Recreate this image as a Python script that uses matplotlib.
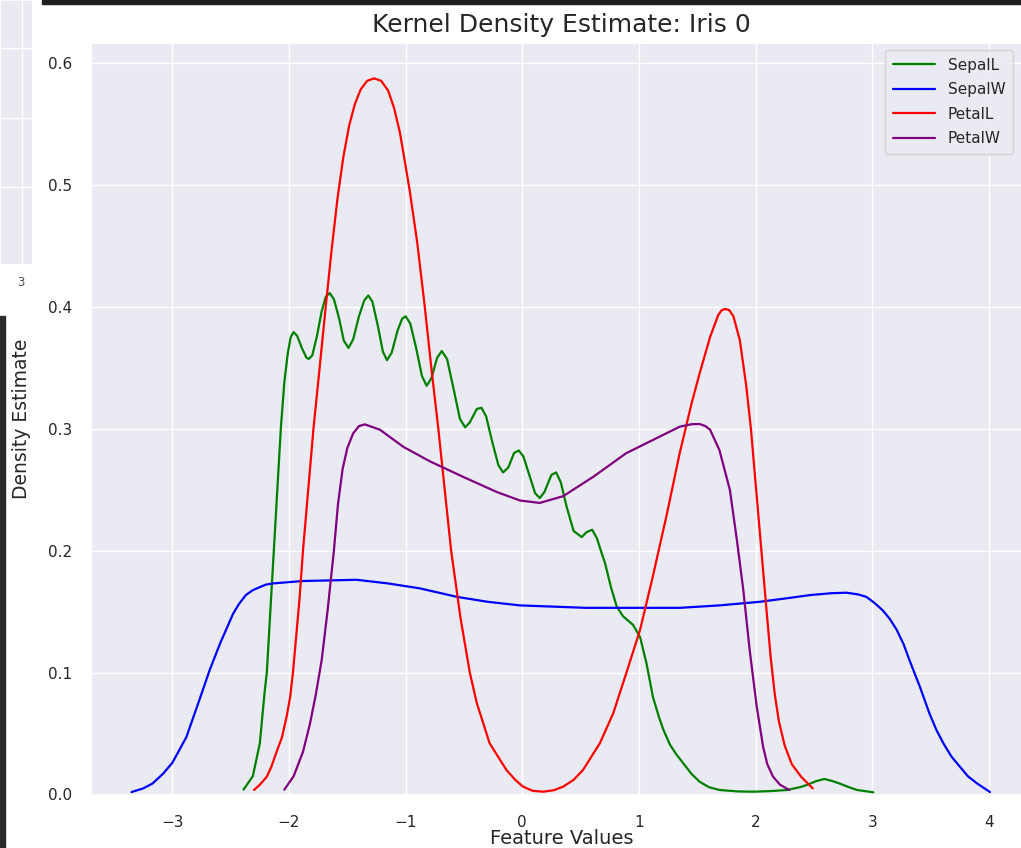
import matplotlib
matplotlib.use("Agg")
import matplotlib.pyplot as plt
import seaborn as sns
from matplotlib.patches import Rectangle

# values (standardised feature values vs density)
sepal_l_x = [-2.39, -2.31, -2.25, -2.21, -2.19, -2.16, -2.13, -2.10, -2.07, -2.04, -2.01, -1.985,
             -1.96, -1.93, -1.89, -1.85, -1.83, -1.80, -1.76, -1.72, -1.685, -1.65, -1.615, -1.57,
             -1.53, -1.49, -1.45, -1.40, -1.355, -1.32, -1.285, -1.24, -1.195, -1.16, -1.12, -1.07,
             -1.03, -1.00, -0.96, -0.91, -0.86, -0.82, -0.78, -0.73, -0.69, -0.645, -0.59, -0.535,
             -0.49, -0.45, -0.39, -0.35, -0.31, -0.26, -0.205, -0.165, -0.12, -0.07, -0.03, 0.01,
             0.06, 0.11, 0.15, 0.19, 0.25, 0.29, 0.33, 0.38, 0.44, 0.51, 0.55, 0.60, 0.64, 0.68,
             0.71, 0.76, 0.81, 0.865, 0.95, 1.01, 1.065, 1.12, 1.17, 1.21, 1.265, 1.32, 1.38, 1.45,
             1.52, 1.60, 1.69, 1.85, 1.98, 2.13, 2.27, 2.38, 2.44, 2.52, 2.59, 2.66, 2.72, 2.80,
             2.87, 3.01]
sepal_l_y = [0.004, 0.015, 0.042, 0.083, 0.100, 0.150, 0.200, 0.250, 0.300, 0.338, 0.362, 0.375,
             0.379, 0.376, 0.366, 0.358, 0.357, 0.360, 0.376, 0.396, 0.408, 0.411, 0.406, 0.390,
             0.372, 0.366, 0.373, 0.392, 0.405, 0.409, 0.404, 0.385, 0.363, 0.356, 0.362, 0.380,
             0.390, 0.392, 0.386, 0.366, 0.343, 0.335, 0.341, 0.358, 0.3635, 0.357, 0.333, 0.308,
             0.301, 0.305, 0.316, 0.317, 0.310, 0.290, 0.270, 0.264, 0.268, 0.280, 0.282, 0.277,
             0.262, 0.247, 0.243, 0.248, 0.262, 0.264, 0.256, 0.236, 0.216, 0.211, 0.215, 0.217,
             0.210, 0.198, 0.1895, 0.170, 0.154, 0.146, 0.139, 0.129, 0.1075, 0.080, 0.064, 0.053,
             0.041, 0.033, 0.0256, 0.017, 0.0105, 0.006, 0.0037, 0.0025, 0.0023, 0.0028, 0.0037,
             0.006, 0.0078, 0.011, 0.0127, 0.011, 0.009, 0.006, 0.0037, 0.0018]

sepal_w_x = [-3.35, -3.25, -3.17, -3.08, -3.00, -2.88, -2.77, -2.68, -2.59, -2.48, -2.43, -2.37,
             -2.31, -2.25, -2.20, -2.14, -1.88, -1.42, -1.15, -0.88, -0.56, -0.30, -0.02, 0.55,
             0.84, 1.35, 1.69, 2.04, 2.28, 2.47, 2.65, 2.78, 2.88, 2.95, 3.02, 3.09, 3.15, 3.21,
             3.27, 3.32, 3.41, 3.49, 3.55, 3.61, 3.68, 3.75, 3.82, 3.90, 4.01]
sepal_w_y = [0.002, 0.005, 0.009, 0.017, 0.026, 0.047, 0.077, 0.102, 0.124, 0.148, 0.156, 0.1635,
             0.1675, 0.170, 0.172, 0.173, 0.175, 0.176, 0.173, 0.169, 0.162, 0.158, 0.155, 0.153,
             0.153, 0.153, 0.155, 0.158, 0.161, 0.1635, 0.165, 0.1654, 0.164, 0.162, 0.157, 0.151,
             0.144, 0.135, 0.123, 0.110, 0.088, 0.0666, 0.053, 0.042, 0.031, 0.023, 0.015, 0.009,
             0.002]

petal_l_x = [-2.30, -2.25, -2.19, -2.15, -2.11, -2.06, -2.02, -1.99, -1.966, -1.91, -1.88,
             -1.79, -1.735, -1.685, -1.635, -1.585, -1.535, -1.485, -1.435, -1.385, -1.33,
             -1.27, -1.21, -1.15, -1.10, -1.05, -1.00, -0.965, -0.90, -0.836, -0.78, -0.72,
             -0.665, -0.61, -0.53, -0.45, -0.39, -0.28, -0.135, -0.06, 0.007, 0.09, 0.18, 0.27,
             0.35, 0.44, 0.52, 0.665, 0.78, 0.89, 1.01, 1.12, 1.24, 1.35, 1.45, 1.52, 1.61, 1.68,
             1.71, 1.74, 1.775, 1.81, 1.865, 1.92, 1.96, 2.005, 2.05, 2.095, 2.13, 2.165, 2.20,
             2.25, 2.31, 2.39, 2.49]
petal_l_y = [0.0037, 0.008, 0.0146, 0.023, 0.034, 0.047, 0.064, 0.080, 0.100, 0.160, 0.200,
             0.300, 0.352, 0.400, 0.446, 0.488, 0.522, 0.548, 0.566, 0.578, 0.585,
             0.587, 0.585, 0.577, 0.563, 0.543, 0.515, 0.495, 0.452, 0.400, 0.350, 0.300,
             0.250, 0.200, 0.145, 0.100, 0.075, 0.042, 0.020, 0.012, 0.0064, 0.003, 0.0023, 0.0035,
             0.0064, 0.012, 0.020, 0.042, 0.0666, 0.099, 0.135, 0.179, 0.230, 0.280, 0.320, 0.345,
             0.375, 0.393, 0.397, 0.398, 0.397, 0.392, 0.3725, 0.335, 0.300, 0.250, 0.200, 0.150,
             0.112, 0.082, 0.060, 0.040, 0.025, 0.0146, 0.005]

petal_w_x = [-2.04, -1.96, -1.88, -1.82, -1.77, -1.72, -1.67, -1.615, -1.58, -1.54, -1.50, -1.45,
             -1.40, -1.35, -1.22, -1.02, -0.79, -0.51, -0.22, -0.02, 0.15, 0.35, 0.61, 0.89, 1.12,
             1.35, 1.45, 1.52, 1.57, 1.61, 1.69, 1.78, 1.84, 1.895, 1.95, 2.01, 2.065, 2.10, 2.15,
             2.21, 2.29]
petal_w_y = [0.004, 0.015, 0.035, 0.058, 0.082, 0.110, 0.150, 0.200, 0.238, 0.267, 0.284, 0.296,
             0.302, 0.3034, 0.299, 0.285, 0.273, 0.2605, 0.248, 0.241, 0.239, 0.2445, 0.2605,
             0.2797, 0.2906, 0.3015, 0.3035, 0.3037, 0.302, 0.299, 0.2824, 0.2496, 0.2086, 0.1676,
             0.118, 0.072, 0.039, 0.025, 0.0146, 0.008, 0.0037]

labels = ["SepalL", "SepalW", "PetalL", "PetalW"]
colors = ["green", "blue", "red", "purple"]
x_ticks = [-3, -2, -1, 0, 1, 2, 3, 4]
y_ticks = [0.0, 0.1, 0.2, 0.3, 0.4, 0.5, 0.6]

sns.set_theme(style="darkgrid")
plt.rcParams['font.family'] = ['DejaVu Sans']

W, H = 1021, 848
fig = plt.figure(figsize=(W / 100, H / 100), dpi=100)

# main axes, placed by pixel
left, right, top, bottom = 90.7, 1032.0, 43.0, 794.5
ax = fig.add_axes([left / W, 1 - bottom / H, (right - left) / W, (bottom - top) / H])

series = [(sepal_l_x, sepal_l_y), (sepal_w_x, sepal_w_y),
          (petal_l_x, petal_l_y), (petal_w_x, petal_w_y)]
for (xs, ys), lab, col in zip(series, labels, colors):
    ax.plot(xs, ys, color=col, lw=1.6, label=lab, solid_joinstyle="round")

ax.set_xlim(-3.70, 4.37)
ax.set_ylim(0, 0.616)
ax.set_xticks(x_ticks)
ax.set_yticks(y_ticks)
ax.set_yticklabels(["%.1f" % v for v in y_ticks])
ax.tick_params(axis="both", labelsize=11, pad=7.5)
ax.tick_params(axis="x", pad=8.5)

ax.set_title("Kernel Density Estimate: Iris 0", fontsize=18, pad=8)
ax.set_xlabel("Feature Values", fontsize=14)
ax.set_ylabel("Density Estimate", fontsize=13.5)
ax.xaxis.set_label_coords(0.5, (bottom - 829) / (bottom - top))
ax.yaxis.set_label_coords((31 - left) / (right - left), 0.5)

ax.legend(loc="upper left", bbox_to_anchor=(885 / W, 1 - 50 / H),
          bbox_transform=fig.transFigure, borderaxespad=0,
          fontsize=11, handlelength=2.8, labelspacing=0.62, borderpad=0.5)

# screenshot leftovers: neighbouring panel and dark frame edges
side = fig.add_axes([0, 1 - 265 / H, 33 / W, 265 / H])
side.set_xlim(0, 33)
side.set_ylim(265, 0)
side.set_xticks([22])
side.set_yticks([48, 118, 187])
side.set_xticklabels([])
side.set_yticklabels([])
side.tick_params(length=0)
fig.text(21 / W, 1 - 283 / H, "3", ha="center", va="center", fontsize=8.5, color="0.3")

fig.patches.append(Rectangle((42 / W, 1 - 3.5 / H), 1 - 42 / W, 3.5 / H,
                             transform=fig.transFigure, color="#1e1e1e", zorder=5))
fig.patches.append(Rectangle((0, 0), 4.5 / W, 1 - 316 / H,
                             transform=fig.transFigure, color="#2a2a2a", zorder=5))

fig.savefig("out.png", dpi=100)
